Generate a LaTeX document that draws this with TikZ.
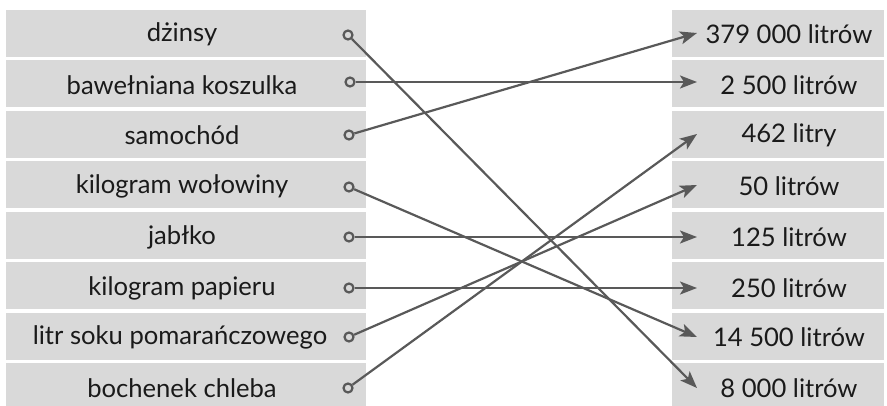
\documentclass[tikz,border=0pt]{standalone}
\usepackage{fontspec}
\setmainfont{Lato}
\usetikzlibrary{arrows.meta}
\definecolor{boxgray}{HTML}{D9D9D9}
\definecolor{linegray}{HTML}{595959}
\definecolor{txt}{HTML}{1A1A1A}
\tikzset{
  lbox/.style={fill=boxgray, draw=none, minimum width=360, minimum height=47, inner sep=0, anchor=north west},
  rbox/.style={fill=boxgray, draw=none, minimum width=212, minimum height=47, inner sep=0, anchor=north west},
  lbl/.style={text=txt, font=\fontsize{25.6}{28}\selectfont, inner sep=0},
  dot/.style={circle, draw=linegray, line width=2.2, minimum size=9, inner sep=0},
  conn/.style={draw=linegray, line width=2.2, -{Stealth[length=17, width=13, inset=4]}},
}
\begin{document}
\begin{tikzpicture}[x=1pt, y=-1pt]
\useasboundingbox (0,0) rectangle (887,406);
\begin{scope}
\clip (0,0) rectangle (887,406);
% boxes
\foreach \i in {1,...,8} {
  \node[lbox] (lb\i) at (6, {9.5+50.5*(\i-1)}) {};
  \node[rbox] (rb\i) at (672, {9.5+50.5*(\i-1)}) {};
}
\end{scope}
% left texts
\node[lbl] (lt1) at (182,34) {dżinsy};
\node[lbl] (lt2) at (182,85) {bawełniana koszulka};
\node[lbl] (lt3) at (182,135) {samochód};
\node[lbl] (lt4) at (182,186) {kilogram wołowiny};
\node[lbl] (lt5) at (182,237) {jabłko};
\node[lbl] (lt6) at (182,288) {kilogram papieru};
\node[lbl] (lt7) at (180,337) {litr soku pomarańczowego};
\node[lbl] (lt8) at (182,388) {bochenek chleba};
% right texts
\node[lbl] (rt1) at (789,34) {379 000 litrów};
\node[lbl] (rt2) at (789,85) {2 500 litrów};
\node[lbl] (rt3) at (789,135) {462 litry};
\node[lbl] (rt4) at (789,186) {50 litrów};
\node[lbl] (rt5) at (789,237) {125 litrów};
\node[lbl] (rt6) at (789,288) {250 litrów};
\node[lbl] (rt7) at (789,337) {14 500 litrów};
\node[lbl] (rt8) at (789,388) {8 000 litrów};
% start dots
\node[dot] (s1) at (348,35) {};
\node[dot] (s2) at (350,82) {};
\node[dot] (s3) at (349,135) {};
\node[dot] (s4) at (349,187) {};
\node[dot] (s5) at (349,237) {};
\node[dot] (s6) at (349,288) {};
\node[dot] (s7) at (349,337) {};
\node[dot] (s8) at (348,388) {};
% arrow targets
\coordinate (e1) at (697,33);
\coordinate (e2) at (697,82);
\coordinate (e3) at (697,134);
\coordinate (e4) at (697,185);
\coordinate (e5) at (697,237);
\coordinate (e6) at (697,288);
\coordinate (e7) at (697,337);
\coordinate (e8) at (697,388);
% connectors
\draw[conn] (s1) -- (e8);
\draw[conn] (s2) -- (e2);
\draw[conn] (s3) -- (e1);
\draw[conn] (s4) -- (e7);
\draw[conn] (s5) -- (e5);
\draw[conn] (s6) -- (e6);
\draw[conn] (s7) -- (e4);
\draw[conn] (s8) -- (e3);
\end{tikzpicture}
\end{document}
